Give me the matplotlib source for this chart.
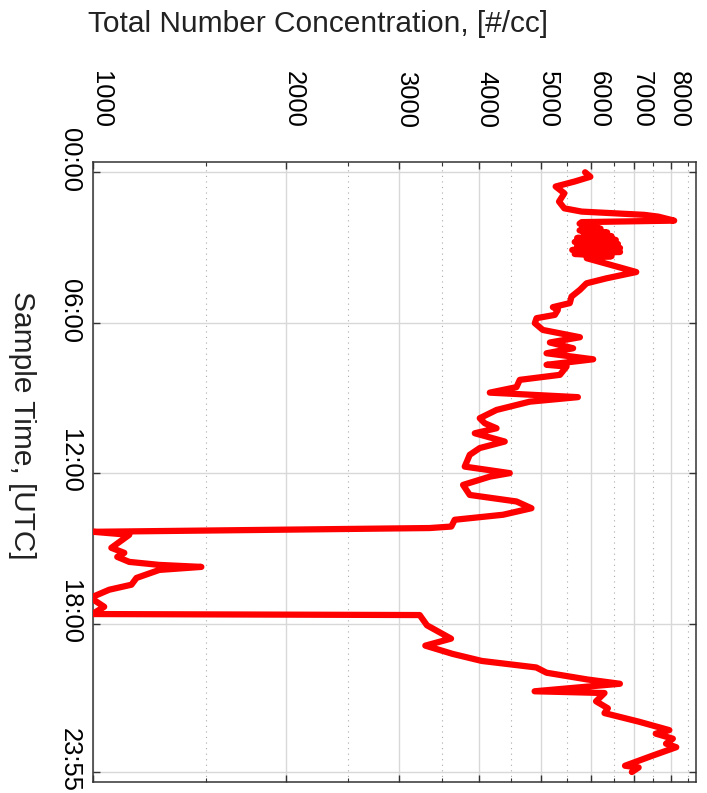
import numpy as np
import matplotlib
matplotlib.use("Agg")
import matplotlib.pyplot as plt
import matplotlib.ticker as mticker
import matplotlib.transforms as mtransforms

plt.rcParams['font.family'] = ['Liberation Sans', 'DejaVu Sans']

# sample time (hours, UTC) and total number concentration (#/cc)
time_h = [0.00, 0.18, 0.37, 0.57, 0.84, 1.17, 1.44, 1.57, 1.70, 1.77, 1.93, 1.99,
          2.05, 2.12, 2.18, 2.25, 2.32, 2.40, 2.47, 2.55, 2.62, 2.70, 2.78, 2.86,
          2.94, 3.02, 3.10, 3.18, 3.26, 3.35, 3.43, 3.83, 3.98, 4.23, 4.43, 4.69,
          4.96, 5.22, 5.38, 5.49, 5.69, 5.82, 6.02, 6.29, 6.58, 6.79, 7.02, 7.22,
          7.46, 7.68, 7.75, 8.08, 8.28, 8.57, 8.79, 8.97, 9.15, 9.48, 9.81, 10.01,
          10.21, 10.41, 10.74, 11.00, 11.27, 11.74, 12.00, 12.14, 12.47, 12.87,
          13.13, 13.40, 13.66, 13.86, 14.13, 14.19, 14.34, 14.46, 14.98, 15.18,
          15.34, 15.54, 15.66, 15.74, 15.86, 16.18, 16.45, 16.65, 16.97, 17.33,
          17.57, 17.62, 17.66, 18.07, 18.60, 18.88, 19.21, 19.49, 19.75, 19.96,
          20.23, 20.40, 20.70, 20.77, 21.10, 21.38, 21.57, 21.91, 22.25, 22.39,
          22.59, 22.79, 22.93, 23.27, 23.67, 23.74, 23.92]
conc = [5865, 5977, 5649, 5275, 5443, 5340, 5443, 5794, 7259, 7630, 8080, 5794,
        5750, 6050, 5800, 6200, 5750, 6350, 5850, 6450, 5700, 6550, 5650, 6600,
        5700, 6650, 5600, 6650, 5650, 6450, 5900, 6718, 7050, 6336, 5895, 5757,
        5585, 5551, 5223, 5318, 5260, 4925, 4895, 5038, 5757, 5167, 5618, 5106,
        6038, 5106, 5487, 5357, 4637, 4582, 4163, 5715, 4807, 4265, 4015, 4088,
        4265, 3944, 4393, 4015, 3873, 3804, 4473, 4163, 3781, 3873,
        4582, 4836, 4366, 3669, 3625, 3354, 1000, 1138, 1067, 1118,
        1090, 1138, 1268, 1475, 1268, 1168, 1147, 1059, 990, 1040,
        1004, 1000, 3235, 3321, 3621, 3301, 3643, 4044, 4920, 5106,
        5916, 6647, 4891, 6289, 6101, 6366, 6289, 7111, 7941, 7561,
        8042, 7846, 8141, 7469, 6770, 7111, 6939]

conc_major = [1000, 2000, 3000, 4000, 5000, 6000, 7000, 8000]
conc_minor = [1500, 2500, 3500, 4500, 5500, 6500, 7500, 8500]
time_ticks = [0, 6, 12, 18, 23 + 55 / 60.]
time_labels = ["00:00", "06:00", "12:00", "18:00", "23:55"]

W, H = 707, 793
fig = plt.figure(figsize=(W / 100., H / 100.), dpi=100)
ax = fig.add_axes([93.3 / W, 1 - 782.3 / H, (696 - 93.3) / W, (782.3 - 161.7) / H])

ax.plot(conc, time_h, color='#ff0000', lw=4.5, solid_joinstyle='round',
        solid_capstyle='round', zorder=5)

ax.set_xscale('log')
ax.set_xlim(1000, 8740)
ax.set_ylim(24.33, -0.42)

ax.xaxis.set_major_locator(mticker.FixedLocator(conc_major))
ax.xaxis.set_minor_locator(mticker.FixedLocator(conc_minor))
ax.xaxis.set_major_formatter(mticker.FixedFormatter([str(v) for v in conc_major]))
ax.xaxis.set_minor_formatter(mticker.NullFormatter())
ax.set_yticks(time_ticks)
ax.set_yticklabels(time_labels)

ax.grid(True, which='major', axis='x', color='#d8d8d8', lw=1.0, ls='-')
ax.grid(True, which='minor', axis='x', color='#aaaaaa', lw=0.8, ls=(0, (1, 4)))
ax.grid(True, which='major', axis='y', color='#d8d8d8', lw=1.0, ls='-')
ax.set_axisbelow(True)

ax.tick_params(which='both', direction='in', top=True, bottom=True, left=True,
               right=True, labeltop=True, labelbottom=False, color='#333333')
ax.tick_params(which='major', length=5, width=1.0)
ax.tick_params(which='minor', length=3, width=0.8)
ax.tick_params(axis='x', which='major', pad=24.5, labelsize=18.4)
ax.tick_params(axis='y', which='major', pad=8.0, labelsize=18.4)

for sp in ax.spines.values():
    sp.set_color('#333333')
    sp.set_linewidth(1.1)

xoff = mtransforms.ScaledTranslation(-0.046, 0, fig.dpi_scale_trans)
for lab in ax.get_xticklabels():
    lab.set_rotation(270)
    lab.set_ha('left')
    lab.set_va('bottom')
    lab.set_transform(lab.get_transform() + xoff)

yoff = mtransforms.ScaledTranslation(0, 0.12, fig.dpi_scale_trans)
for lab in ax.get_yticklabels():
    lab.set_rotation(270)
    lab.set_va('center')
    lab.set_ha('right')
    lab.set_transform(lab.get_transform() + yoff)

fig.text(318. / W, 1 - 24. / H, "Total Number Concentration, [#/cc]",
         fontsize=21.5, ha='center', va='center', color='#222222')
fig.text(22. / W, 1 - 425. / H, "Sample Time, [UTC]", rotation=270,
         fontsize=21.5, ha='center', va='center', color='#222222')

fig.savefig("out.png", dpi=100)
